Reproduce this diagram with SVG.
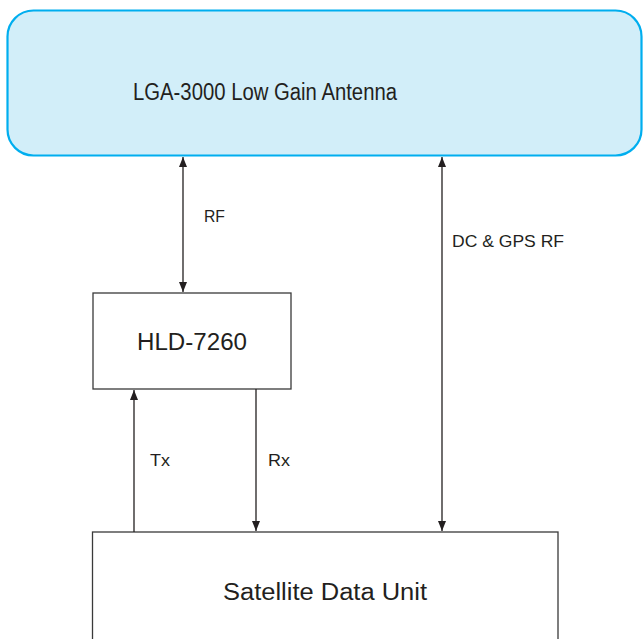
<svg xmlns="http://www.w3.org/2000/svg" width="643" height="639" viewBox="0 0 643 639">
<defs>
<marker id="ah" viewBox="0 0 10 8" refX="10" refY="4" markerWidth="10" markerHeight="8" markerUnits="userSpaceOnUse" orient="auto-start-reverse">
<path d="M0,0 L10,4 L0,8 Z" fill="#231f20"/>
</marker>
<style>
.box{fill:#fff;stroke:#3a3a3a;stroke-width:1.3}
.t{font-family:"Liberation Sans",Arial,sans-serif;fill:#231f20}
.big{font-size:23.5px;text-anchor:middle}
.lbl{font-size:17px}
.c{stroke:#231f20;stroke-width:1.3;fill:none}
</style>
</defs>
<rect width="643" height="639" fill="#fff"/>
<g id="antenna">
<rect x="7.5" y="10.5" width="634" height="145" rx="26" ry="26" fill="#d2eef9" stroke="#00aeef" stroke-width="2.2"/>
<text class="t big" x="265" y="100" textLength="264" lengthAdjust="spacingAndGlyphs">LGA-3000 Low Gain Antenna</text>
</g>
<g id="hld">
<rect class="box" x="93" y="293" width="198" height="96"/>
<text class="t big" x="192" y="350" textLength="110" lengthAdjust="spacingAndGlyphs">HLD-7260</text>
</g>
<g id="sdu">
<rect class="box" x="92.5" y="532" width="465.5" height="120"/>
<text class="t big" x="325" y="600" textLength="204" lengthAdjust="spacingAndGlyphs">Satellite Data Unit</text>
</g>
<g id="connectors">
<line class="c" x1="183" y1="157" x2="183" y2="292" marker-start="url(#ah)" marker-end="url(#ah)"/>
<line class="c" x1="442" y1="157" x2="442" y2="531" marker-start="url(#ah)" marker-end="url(#ah)"/>
<line class="c" x1="134" y1="532" x2="134" y2="390" marker-end="url(#ah)"/>
<line class="c" x1="256" y1="389" x2="256" y2="531" marker-end="url(#ah)"/>
<text class="t lbl" x="204" y="222" textLength="21" lengthAdjust="spacingAndGlyphs">RF</text>
<text class="t lbl" x="452" y="247" textLength="112" lengthAdjust="spacingAndGlyphs">DC &amp; GPS RF</text>
<text class="t lbl" x="150" y="466" textLength="20" lengthAdjust="spacingAndGlyphs">Tx</text>
<text class="t lbl" x="268" y="466" textLength="22" lengthAdjust="spacingAndGlyphs">Rx</text>
</g>
</svg>
